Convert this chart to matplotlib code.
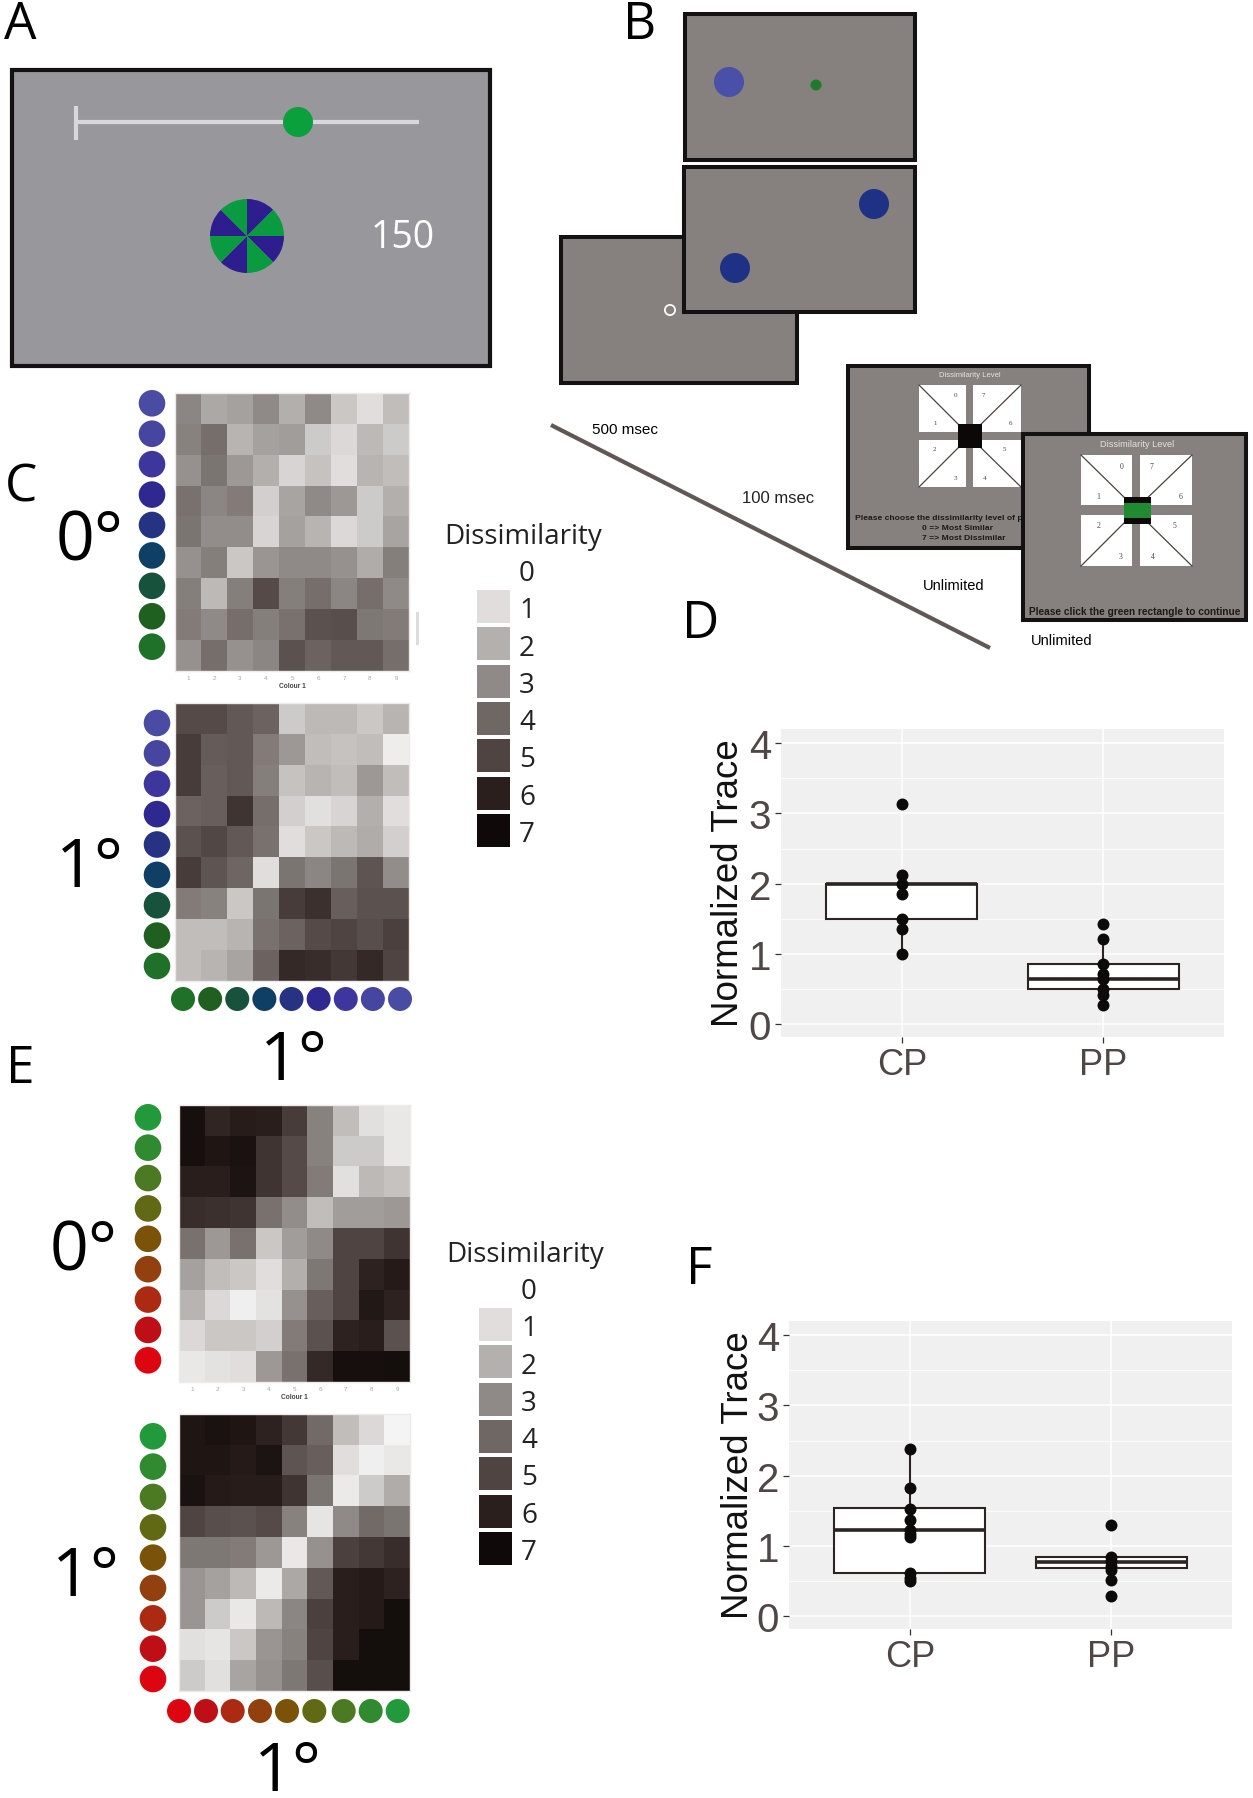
import matplotlib
matplotlib.use('Agg')
import matplotlib.pyplot as plt
from matplotlib.colors import LinearSegmentedColormap
from matplotlib.patches import Rectangle, Circle

W = 1253
H = 1799

# dissimilarity matrices
c_0deg = [
    [3.1, 2.2, 2.4, 3.0, 2.0, 3.0, 1.5, 1.0, 1.7],
    [3.2, 3.8, 1.9, 2.4, 2.5, 1.4, 1.1, 1.8, 1.4],
    [2.8, 3.6, 2.6, 2.0, 1.2, 1.6, 1.0, 1.9, 1.7],
    [3.7, 3.1, 3.4, 1.3, 2.3, 3.0, 2.6, 1.4, 2.0],
    [3.6, 2.9, 2.9, 1.2, 2.4, 1.9, 1.1, 1.4, 2.3],
    [2.8, 3.3, 1.5, 2.7, 3.0, 3.0, 2.8, 2.1, 3.3],
    [3.3, 1.8, 3.3, 4.8, 3.3, 3.8, 3.1, 3.8, 3.0],
    [3.4, 3.0, 3.8, 3.3, 3.7, 4.6, 4.7, 3.5, 3.4],
    [2.8, 3.8, 2.8, 3.1, 4.6, 4.1, 4.4, 4.4, 3.8],
]
c_1deg = [
    [4.8, 4.8, 4.4, 4.1, 1.4, 1.8, 1.8, 1.5, 1.9],
    [5.2, 4.3, 4.4, 3.4, 2.6, 1.7, 1.6, 1.7, 0.4],
    [5.2, 4.2, 4.4, 3.3, 1.6, 1.9, 1.7, 2.6, 1.7],
    [4.1, 4.2, 5.4, 3.8, 1.3, 0.9, 1.2, 2.0, 1.0],
    [4.6, 4.9, 4.4, 3.7, 1.0, 1.5, 1.8, 2.1, 1.3],
    [5.2, 4.5, 4.0, 1.0, 3.6, 3.1, 3.6, 4.5, 2.9],
    [3.4, 3.2, 1.5, 3.6, 5.2, 5.5, 4.2, 4.6, 4.6],
    [1.7, 1.7, 1.9, 3.7, 4.1, 4.8, 5.0, 4.7, 5.1],
    [1.7, 1.9, 2.3, 4.1, 5.7, 5.6, 5.3, 5.7, 5.0],
]
e_0deg = [
    [6.7, 5.8, 6.1, 6.0, 5.2, 3.2, 1.7, 0.9, 0.6],
    [6.7, 6.4, 6.6, 5.4, 4.8, 3.2, 1.4, 1.4, 0.6],
    [6.0, 6.0, 6.5, 5.4, 4.8, 3.4, 0.9, 1.8, 1.6],
    [5.6, 5.5, 5.4, 3.7, 2.9, 1.7, 2.5, 2.5, 2.6],
    [3.7, 2.6, 3.7, 1.5, 2.5, 3.0, 5.0, 5.0, 5.4],
    [2.4, 1.7, 1.5, 1.0, 2.0, 3.5, 5.0, 5.9, 6.2],
    [1.9, 1.1, 0.3, 0.8, 2.8, 4.2, 5.0, 6.3, 5.9],
    [1.1, 1.5, 1.5, 1.3, 3.4, 4.6, 5.9, 6.0, 4.6],
    [0.6, 0.8, 1.0, 2.6, 3.7, 5.7, 6.7, 6.7, 6.8],
]
e_1deg = [
    [6.4, 6.6, 6.4, 5.9, 5.3, 3.9, 1.7, 1.1, 0.1],
    [6.4, 6.4, 6.2, 6.5, 4.5, 4.2, 1.0, 0.3, 0.6],
    [6.6, 6.2, 6.1, 6.1, 5.4, 3.6, 0.5, 1.4, 2.1],
    [5.0, 4.7, 4.6, 4.8, 3.2, 0.7, 3.0, 3.9, 3.6],
    [3.5, 3.5, 3.4, 2.6, 0.6, 2.8, 5.1, 5.3, 5.6],
    [2.7, 2.4, 1.8, 0.5, 2.2, 4.4, 6.0, 6.2, 5.9],
    [2.7, 1.4, 0.6, 1.8, 3.1, 5.1, 6.0, 6.2, 6.8],
    [0.9, 0.7, 1.5, 2.7, 3.2, 5.0, 6.0, 6.8, 6.8],
    [1.4, 0.9, 2.3, 2.8, 3.5, 4.7, 6.8, 6.8, 6.8],
]

blue_green = ['#4a4ba3', '#46459f', '#3e369c', '#2e2890', '#263383',
              '#0f3f64', '#16523c', '#1f5f20', '#1f7028']
green_red = ['#22993a', '#2f8a30', '#4c7a22', '#626914', '#7a5308',
             '#93400f', '#ad2a12', '#bf0f16', '#dc0510']

levels = [0, 1, 2, 3, 4, 5, 6, 7]
level_colors = ['#f7f7f7', '#e0dddc', '#b3b0ae', '#8f8a87', '#6f6764',
                '#4f4441', '#2b1f1d', '#0f0a09']

groups = ['CP', 'PP']

# normalized trace, panel D
d_cp = [3.13, 2.13, 2.0, 1.85, 1.5, 1.35, 1.0]
d_pp = [1.42, 1.21, 0.86, 0.72, 0.65, 0.5, 0.42, 0.28]
d_box = [(1.0, 1.5, 2.0, 2.0, 2.13), (0.28, 0.5, 0.64, 0.86, 1.21)]

# normalized trace, panel F
f_cp = [2.38, 1.83, 1.53, 1.37, 1.23, 1.17, 1.13, 0.62, 0.55, 0.5]
f_pp = [1.3, 0.84, 0.78, 0.72, 0.66, 0.52, 0.29]
f_box = [(0.5, 0.61, 1.23, 1.54, 2.38), (0.66, 0.69, 0.77, 0.84, 0.86)]

pin_sizes = [1, 1, 1, 1, 1, 1, 1, 1]
pin_colors = ['#2e1d8f', '#0a9a3f'] * 4

plt.rcParams['font.family'] = ['Open Sans', 'DejaVu Sans']
cmap = LinearSegmentedColormap.from_list('dis', [(l / 7, c) for l, c in zip(levels, level_colors)])

fig = plt.figure(figsize=(W / 100, H / 100), dpi=100)

def px_axes(x0, y0, x1, y1, **kw):
    return fig.add_axes([x0 / W, 1 - y1 / H, (x1 - x0) / W, (y1 - y0) / H], **kw)

# overlay in pixel coordinates for the schematics and labels
bg = fig.add_axes([0, 0, 1, 1])
bg.set_xlim(0, W)
bg.set_ylim(H, 0)
bg.axis('off')

def txt(x, y, s, size, color='black', ha='center', va='center', z=30, family='Open Sans', **kw):
    bg.text(x, y, s, fontsize=size, color=color, ha=ha, va=va, zorder=z, family=family, **kw)

def screen(x0, y0, x1, y1, z, face='#86817e', lw=2.9):
    bg.add_patch(Rectangle((x0, y0), x1 - x0, y1 - y0, facecolor=face, edgecolor='#131111',
                           linewidth=lw, zorder=z))

def dot(x, y, r, color, z=30, **kw):
    bg.add_patch(Circle((x, y), r, facecolor=color, edgecolor='none', zorder=z, **kw))

# panel letters
for s, x, y in [('A', 20, 39), ('B', 640, 39), ('C', 21, 502), ('D', 701, 638), ('E', 20, 1083), ('F', 699, 1284)]:
    txt(x, y, s, 37, va='baseline')

# panel A
screen(12, 71, 490, 367, 1, face='#98979b', lw=3)
bg.plot([76, 419], [123, 123], color='#d8d7da', lw=3, zorder=2, solid_capstyle='butt')
bg.plot([76, 76], [107, 141], color='#d8d7da', lw=3, zorder=2, solid_capstyle='butt')
dot(298, 123, 15, '#0aa03c', z=3)
txt(403, 248, '150', 27, color='white', va='baseline')
pin = px_axes(247 - 37, 237 - 37, 247 + 37, 237 + 37)
pin.pie(pin_sizes, colors=pin_colors, startangle=90, counterclock=False, radius=1)
pin.set_xlim(-1, 1)
pin.set_ylim(-1, 1)

# panel B, fixation and stimulus screens
screen(561, 238, 797, 384, 2)
dot(670, 311, 6, 'white', z=3)
dot(670, 311, 4.2, '#86817e', z=3.1)
screen(684, 168, 915, 313, 4)
dot(874, 205, 15, '#1f3184', z=5)
dot(735, 269, 15, '#1f3184', z=5)
screen(685, 15, 915, 161, 6)
dot(729, 83, 15, '#4a4fa8', z=7)
dot(816, 86, 5.5, '#1f7a2a', z=7)

bg.plot([551, 990], [426, 649], color='#5f5855', lw=3, zorder=8, solid_capstyle='butt')
txt(625, 430, '500 msec', 11, family='Liberation Sans')
txt(778, 499, '100 msec', 12, color='#222222', family='Liberation Sans')
txt(954, 586, 'Unlimited', 10.5, family='Liberation Sans')
txt(1062, 641, 'Unlimited', 10.5, family='Liberation Sans')

# panel B, response screens
def resp(x0, x1, x2, x3, y0, y1, y2, y3, z):
    for a, b, c, d, flip in [(x0, x1, y0, y1, 0), (x2, x3, y0, y1, 1), (x0, x1, y2, y3, 1), (x2, x3, y2, y3, 0)]:
        bg.add_patch(Rectangle((a, c), b - a, d - c, facecolor='white', edgecolor='none', zorder=z))
        if flip:
            bg.plot([a, b], [d, c], color='#4a4240', lw=0.9, zorder=z + 0.1)
        else:
            bg.plot([a, b], [c, d], color='#4a4240', lw=0.9, zorder=z + 0.1)

screen(848, 367, 1089, 549, 10)
resp(919, 966, 973, 1021, 386, 433, 441, 488, 10.5)
bg.add_patch(Rectangle((958, 425), 24, 24, facecolor='#0c0808', zorder=11))
for s, x, y in [('0', 955.7, 395.7), ('7', 983.3, 395.7), ('1', 934.7, 423.3), ('6', 1010.7, 423.3),
                ('2', 934.7, 450), ('5', 1004, 450), ('3', 955, 478.3), ('4', 984.3, 478.3)]:
    txt(x, y, s, 5, color='#444444', z=11, family='Liberation Serif')
txt(970, 375.5, 'Dissimilarity Level', 5.5, color='#e4e2e0', z=11, family='Liberation Sans')
txt(855, 519, 'Please choose the dissimilarity level of pr', 6.1, color='#1c1917', ha='left', z=11,
    family='Liberation Sans', fontweight='bold')
txt(957, 529, '0 => Most Similar', 6.1, color='#1c1917', z=11, family='Liberation Sans', fontweight='bold')
txt(964, 539, '7 => Most Dissimilar', 6.1, color='#1c1917', z=11, family='Liberation Sans', fontweight='bold')

screen(1023, 435, 1246, 621, 12)
resp(1081, 1132, 1140, 1192, 456, 506, 516, 567, 12.5)
bg.add_patch(Rectangle((1124, 498), 26.5, 27, facecolor='#0c0808', zorder=13))
bg.add_patch(Rectangle((1124, 504), 26.5, 15, facecolor='#1f8a2f', zorder=13.1))
for s, x, y in [('0', 1122, 466.7), ('7', 1151.7, 466.7), ('1', 1098.7, 497.3), ('6', 1180.7, 497.3),
                ('2', 1098.7, 526), ('5', 1174, 526), ('3', 1120.7, 556.7), ('4', 1152.7, 556.7)]:
    txt(x, y, s, 5.5, color='#444444', z=14, family='Liberation Serif')
txt(1136.7, 444.7, 'Dissimilarity Level', 6.6, color='#e4e2e0', z=14, family='Liberation Sans')
txt(1135, 611.7, 'Please click the green rectangle to continue', 7.3, color='#1c1917', z=14,
    family='Liberation Sans', fontweight='bold')

# heatmaps
def heat(m, x0, y0, x1, y1, ticks=False):
    ax = px_axes(x0, y0, x1, y1)
    ax.imshow(m, cmap=cmap, vmin=0, vmax=7, aspect='auto', interpolation='nearest')
    for s in ax.spines.values():
        s.set_color('#eeeaea')
        s.set_linewidth(1)
    ax.set_yticks([])
    if ticks:
        ax.set_xticks(range(9))
        ax.set_xticklabels(range(1, 10), fontsize=4.5, color='#a8a4a2', family='Liberation Sans')
        ax.tick_params(axis='x', length=0, pad=3)
        ax.set_xlabel('Colour 1', fontsize=4.8, fontweight='bold', color='#444444',
                      family='Liberation Sans', labelpad=1.5)
    else:
        ax.set_xticks([])
    return ax

heat(c_0deg, 175, 394, 409, 672, ticks=True)
heat(c_1deg, 175, 704, 409, 982)
heat(e_0deg, 179, 1106, 410, 1383, ticks=True)
heat(e_1deg, 179, 1415, 410, 1692)

def row_of_dots(xs, ys, colors, r):
    for x, y, c in zip(xs, ys, colors):
        dot(x, y, r, c)

def spaced(a, b):
    return [a + (b - a) * i / 8 for i in range(9)]

row_of_dots([152] * 9, spaced(404.3, 647.7), blue_green, 13.3)
row_of_dots([157] * 9, spaced(724, 967), blue_green, 13.3)
row_of_dots(spaced(183, 400), [1000] * 9, blue_green[::-1], 12)
row_of_dots([148] * 9, spaced(1118.3, 1361.3), green_red, 13.3)
row_of_dots([153] * 9, spaced(1437.3, 1680), green_red, 13.3)
row_of_dots([179, 206, 232.7, 260, 287, 314.3, 343.7, 370.7, 397.7], [1712] * 9, green_red[::-1], 12)

bg.add_patch(Rectangle((415.5, 613), 3.5, 33, facecolor='#dcdcdc', edgecolor='none'))

# degree labels, baseline placed
for s, x, y in [('0°', 90, 561), ('1°', 90, 887), ('1°', 294, 1080),
                ('0°', 84, 1271), ('1°', 86, 1596), ('1°', 288, 1791)]:
    txt(x, y, s, 49, va='baseline')

# legends
def legend(dx, dy):
    txt(523 + dx, 537 + dy, 'Dissimilarity', 20, color='#222222')
    for i, l in enumerate(levels):
        txt(527 + dx, 574 + dy + 37.3 * i, str(l), 20, color='#222222')
    for i, c in enumerate(level_colors[1:]):
        bg.add_patch(Rectangle((477 + dx, 591 + dy + 37.3 * i), 33, 33, facecolor=c, edgecolor='none'))

legend(0, 0)
legend(2, 718)

# boxplots, ggplot look
def trace_panel(cp, pp, box, x0, y0, x1, y1, ylab_x):
    ax = px_axes(x0, y0, x1, y1)
    ax.set_facecolor('#f0f0f0')
    for s in ax.spines.values():
        s.set_visible(False)
    stats = []
    for g, b in zip(groups, box):
        stats.append({'label': g, 'whislo': b[0], 'q1': b[1], 'med': b[2], 'q3': b[3], 'whishi': b[4]})
    ax.bxp(stats, positions=[1, 2], widths=0.75, patch_artist=True, showcaps=False, showfliers=False,
           boxprops={'facecolor': 'white', 'edgecolor': '#2b2422', 'linewidth': 1.5},
           medianprops={'color': '#2b2422', 'linewidth': 2.6},
           whiskerprops={'color': '#2b2422', 'linewidth': 1.5}, zorder=3)
    ax.scatter([1] * len(cp), cp, s=74, color='#0d0a0a', zorder=4, linewidths=0)
    ax.scatter([2] * len(pp), pp, s=74, color='#0d0a0a', zorder=4, linewidths=0)
    ax.set_xlim(0.4, 2.6)
    ax.set_ylim(-0.18, 4.2)
    ax.set_yticks([0, 1, 2, 3, 4])
    ax.set_yticks([0.5, 1.5, 2.5, 3.5], minor=True)
    ax.set_xticks([1, 2])
    ax.set_xticklabels(groups)
    ax.set_axisbelow(True)
    ax.grid(True, which='major', color='white', lw=1.1)
    ax.grid(True, which='minor', axis='y', color='white', lw=0.6)
    ax.tick_params(axis='both', which='major', length=4, width=0.9, color='#333333', labelsize=26,
                   labelcolor='#4f4745', pad=3)
    ax.tick_params(axis='y', which='major', labelsize=29)
    ax.tick_params(axis='y', which='minor', length=0)
    for lab in ax.get_xticklabels() + ax.get_yticklabels():
        lab.set_family('Liberation Sans')
    txt(ylab_x, (y0 + y1) / 2 - 1, 'Normalized Trace', 26.5, color='#111111', rotation=90, family='Liberation Sans')
    return ax

trace_panel(d_cp, d_pp, d_box, 781, 730, 1224, 1038, 729)
trace_panel(f_cp, f_pp, f_box, 789, 1322, 1232, 1630, 738)

fig.savefig('out.png', dpi=100)
